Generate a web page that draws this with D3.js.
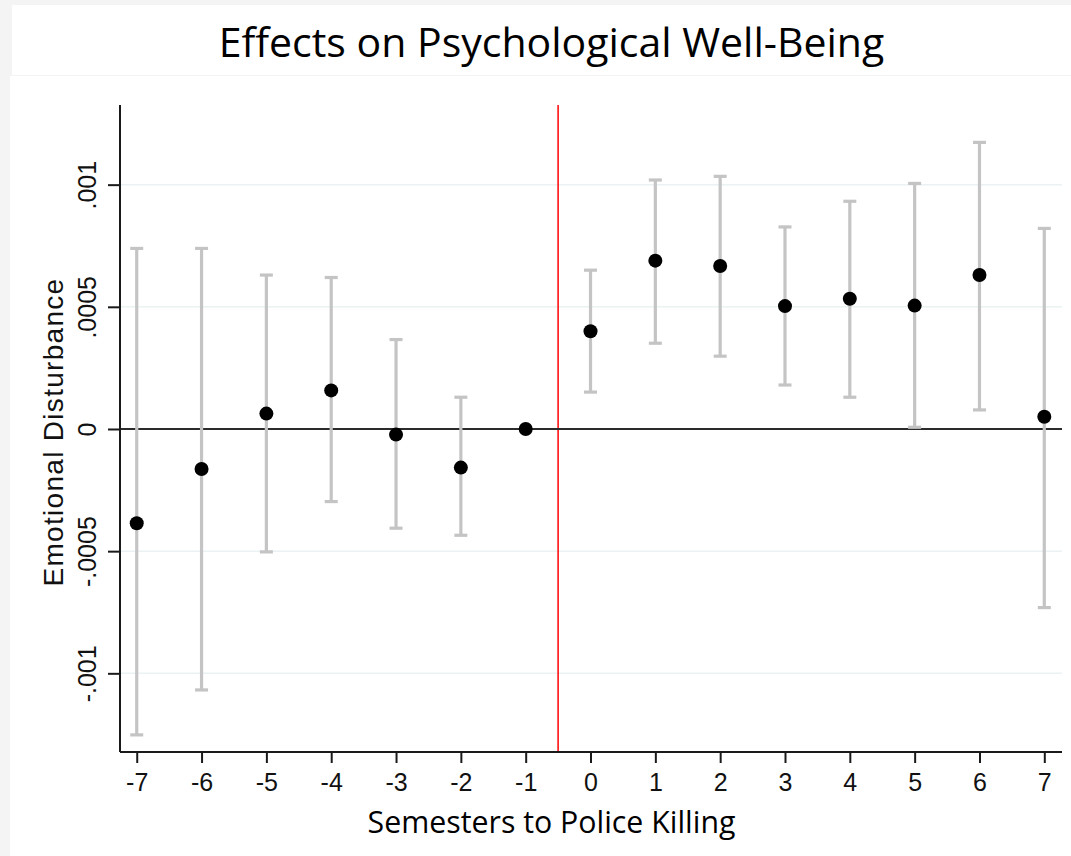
<!DOCTYPE html>
<html>
<head>
<meta charset="utf-8">
<script src="https://cdn.jsdelivr.net/npm/d3@7"></script>
<style>
  html, body { margin: 0; padding: 0; background: #f4f4f4; }
  svg { display: block; }
</style>
</head>
<body>
<svg id="chart" width="1071" height="856"></svg>
<script>
// Event-study estimates: semesters relative to the police killing
const semesters = [-7, -6, -5, -4, -3, -2, -1, 0, 1, 2, 3, 4, 5, 6, 7];
const estimate  = [-0.000386, -0.000164, 0.000063, 0.000158, -0.000023, -0.000158, 0,
                   0.000400, 0.000689, 0.000667, 0.000503, 0.000533, 0.000505, 0.000630, 0.000050];
const ciLower   = [-0.001252, -0.001068, -0.000503, -0.000297, -0.000406, -0.000435, null,
                   0.000151, 0.000351, 0.000298, 0.000180, 0.000130, 0.000007, 0.000078, -0.000731];
const ciUpper   = [0.000739, 0.000739, 0.000630, 0.000620, 0.000366, 0.000130, null,
                   0.000650, 0.001019, 0.001034, 0.000827, 0.000932, 0.001005, 0.001173, 0.000821];

const yTickValues = [-0.001, -0.0005, 0, 0.0005, 0.001];
const yTickLabels = ["-.001", "-.0005", "0", ".0005", ".001"];
const xTickValues = semesters;
const xTickLabels = ["-7", "-6", "-5", "-4", "-3", "-2", "-1", "0", "1", "2", "3", "4", "5", "6", "7"];
const eventLine = -0.5;

const titleText = "Effects on Psychological Well-Being";
const xTitle = "Semesters to Police Killing";
const yTitle = "Emotional Disturbance";

const svg = d3.select("#chart");
const W = 1071, H = 856;

// white panels: title box and plot box
svg.append("rect").attr("x", 12).attr("y", 5).attr("width", W - 12).attr("height", 70).attr("fill", "#fff");
svg.append("rect").attr("x", 10).attr("y", 76).attr("width", W - 10).attr("height", H - 76).attr("fill", "#fff");

const plot = { left: 120, right: 1062, top: 105, bottom: 752 };

const x = d3.scaleLinear().domain([-7.258, 7.273]).range([plot.left, plot.right]);
const y = d3.scaleLinear().domain([-0.001322, 0.001326]).range([plot.bottom, plot.top]);

// title
svg.append("text")
  .attr("x", 551.5).attr("y", 57)
  .attr("text-anchor", "middle")
  .style("font-family", "'Open Sans', 'Noto Sans', sans-serif")
  .style("font-size", "41px")
  .attr("fill", "#000")
  .text(titleText);

// horizontal grid lines
svg.append("g")
  .selectAll("line")
  .data(yTickValues.filter(v => v !== 0))
  .join("line")
  .attr("x1", plot.left).attr("x2", plot.right)
  .attr("y1", d => y(d)).attr("y2", d => y(d))
  .attr("stroke", "#eaf2f3").attr("stroke-width", 1.5);

// vertical reference line before treatment
svg.append("line")
  .attr("x1", x(eventLine)).attr("x2", x(eventLine))
  .attr("y1", plot.top).attr("y2", plot.bottom)
  .attr("stroke", "#ff0000").attr("stroke-width", 1.5);

// zero line
svg.append("line")
  .attr("x1", plot.left).attr("x2", plot.right)
  .attr("y1", y(0)).attr("y2", y(0))
  .attr("stroke", "#2b2b2b").attr("stroke-width", 1.8);

// y axis
const yAxis = d3.axisLeft(y)
  .tickValues(yTickValues)
  .tickFormat((d, i) => yTickLabels[i])
  .tickSize(12)
  .tickPadding(0);
const gy = svg.append("g").attr("transform", `translate(${plot.left},0)`).call(yAxis);
gy.select(".domain").attr("stroke", "#1a1a1a").attr("stroke-width", 2)
  .attr("d", `M0,${plot.top}V${plot.bottom}`);
gy.selectAll(".tick line").attr("stroke", "#1a1a1a").attr("stroke-width", 2);
gy.selectAll(".tick text")
  .attr("x", null).attr("dy", null)
  .attr("transform", "translate(-24,0) rotate(-90)")
  .attr("text-anchor", "middle")
  .style("font-family", "'Liberation Sans', Arial, sans-serif")
  .style("font-size", "25px")
  .attr("fill", "#111");

// x axis
const xAxis = d3.axisBottom(x)
  .tickValues(xTickValues)
  .tickFormat((d, i) => xTickLabels[i])
  .tickSize(11)
  .tickPadding(0);
const gx = svg.append("g").attr("transform", `translate(0,${plot.bottom})`).call(xAxis);
gx.select(".domain").attr("stroke", "#1a1a1a").attr("stroke-width", 2)
  .attr("d", `M${plot.left},0H${plot.right}`);
gx.selectAll(".tick line").attr("stroke", "#1a1a1a").attr("stroke-width", 2);
gx.selectAll(".tick text")
  .attr("y", 39).attr("dy", null)
  .style("font-family", "'Liberation Sans', Arial, sans-serif")
  .style("font-size", "25px")
  .attr("fill", "#111");

// axis titles
svg.append("text")
  .attr("x", 551.5).attr("y", 833)
  .attr("text-anchor", "middle")
  .style("font-family", "'Open Sans', 'Noto Sans', sans-serif")
  .style("font-size", "30.3px")
  .attr("fill", "#000")
  .text(xTitle);

svg.append("text")
  .attr("transform", "translate(63,432) rotate(-90)")
  .attr("text-anchor", "middle")
  .style("font-family", "'Liberation Sans', Arial, sans-serif")
  .style("font-size", "28px")
  .style("letter-spacing", "1.3px")
  .attr("fill", "#111")
  .text(yTitle);

// confidence intervals
const rows = semesters.map((s, i) => ({ s, est: estimate[i], lo: ciLower[i], hi: ciUpper[i] }));
const withCI = rows.filter(d => d.lo !== null && d.hi !== null);
const capHalf = 6.5;
const ci = svg.append("g").attr("stroke", "#c4c4c4").attr("stroke-width", 3.2);
ci.selectAll("line.stem").data(withCI).join("line").attr("class", "stem")
  .attr("x1", d => x(d.s)).attr("x2", d => x(d.s))
  .attr("y1", d => y(d.lo)).attr("y2", d => y(d.hi));
ci.selectAll("line.capHi").data(withCI).join("line").attr("class", "capHi")
  .attr("x1", d => x(d.s) - capHalf).attr("x2", d => x(d.s) + capHalf)
  .attr("y1", d => y(d.hi)).attr("y2", d => y(d.hi));
ci.selectAll("line.capLo").data(withCI).join("line").attr("class", "capLo")
  .attr("x1", d => x(d.s) - capHalf).attr("x2", d => x(d.s) + capHalf)
  .attr("y1", d => y(d.lo)).attr("y2", d => y(d.lo));

// point estimates
svg.append("g").selectAll("circle").data(rows).join("circle")
  .attr("cx", d => x(d.s)).attr("cy", d => y(d.est))
  .attr("r", 7).attr("fill", "#000");
</script>
</body>
</html>
